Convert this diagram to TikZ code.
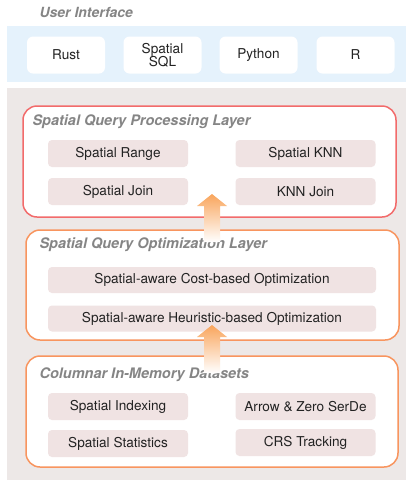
\documentclass[tikz,border=0pt]{standalone}
\usepackage{fontspec}
\setmainfont{TeX Gyre Heros}
\usetikzlibrary{positioning, calc}
\definecolor{uiblue}{HTML}{E5F2FC}
\definecolor{bggray}{HTML}{EDE8E7}
\definecolor{cellpink}{HTML}{F0E3E3}
\definecolor{procred}{HTML}{F26B6B}
\definecolor{optorange}{HTML}{F8955F}
\definecolor{titlegray}{HTML}{858585}
\definecolor{txtdark}{HTML}{222222}
\definecolor{arroworange}{HTML}{F9A55C}

\begin{document}
\begin{tikzpicture}[
    x=1pt, y=-1pt,
    every node/.style={text=txtdark, font=\fontsize{13.6}{15}\selectfont},
    uibox/.style={fill=white, rounded corners=6pt, minimum width=78pt,
      minimum height=37pt, align=center, inner sep=0pt},
    cell/.style={fill=cellpink, rounded corners=4pt, minimum width=140pt,
      minimum height=27pt, inner sep=0pt},
    widecell/.style={cell, minimum width=328pt, minimum height=26pt},
    layertitle/.style={anchor=west, text=titlegray,
      font=\fontsize{14.5}{16}\selectfont\bfseries\itshape},
    layerbox/.style={fill=white, rounded corners=14pt, line width=1.5pt},
  ]
  \useasboundingbox (0,0) rectangle (406,480);

  % ===== User interface =====
  \node[layertitle, font=\fontsize{14}{16}\selectfont\bfseries\itshape]
    (uititle) at (36,12) {User Interface};
  \fill[uiblue] (7,26) rectangle (406,82);
  \node[uibox] (rust) at (66,55) {Rust};
  \node[uibox] (sql) at (162.5,55) {Spatial\\[-2pt]SQL};
  \node[uibox] (python) at (258.5,55) {Python};
  \node[uibox] (rlang) at (355.5,55) {R};

  % ===== Engine background =====
  \fill[bggray] (7,88) rectangle (406,480);

  % ===== Query processing layer =====
  \draw[layerbox, draw=procred] (23,106) rectangle (396,217);
  \node[layertitle] (proctitle) at (29,122) {Spatial Query Processing Layer};
  \node[cell] (range) at (118,153.5) {Spatial Range};
  \node[cell] (knn) at (305.5,153.5) {Spatial KNN};
  \node[cell] (join) at (118,191.5) {Spatial Join};
  \node[cell] (knnjoin) at (305.5,191.5) {KNN Join};

  % ===== Query optimization layer =====
  \draw[layerbox, draw=optorange] (26,230) rectangle (399,340);
  \node[layertitle] (opttitle) at (36,245) {Spatial Query Optimization Layer};
  \node[widecell] (cost) at (212,280) {Spatial-aware Cost-based Optimization};
  \node[widecell] (heur) at (212,318.5) {Spatial-aware Heuristic-based Optimization};

  % ===== Columnar datasets =====
  \draw[layerbox, draw=optorange] (26,356) rectangle (398,467);
  \node[layertitle] (coltitle) at (36,375) {Columnar In-Memory Datasets};
  \node[cell] (index) at (118,406.5) {Spatial Indexing};
  \node[cell] (serde) at (305.5,406.5) {Arrow \& Zero SerDe};
  \node[cell] (stats) at (118,443.5) {Spatial Statistics};
  \node[cell] (crs) at (305.5,442.5) {CRS Tracking};

  % ===== Block arrows between layers =====
  \coordinate (tipa) at (212,194);
  \coordinate (tipb) at (212,325);
  \foreach \tip in {tipa, tipb} {
    \shade[top color=arroworange, bottom color=white]
      (\tip) -- ++(15,12) -- ++(-7,0) -- ++(0,36) -- ++(-16,0)
      -- ++(0,-36) -- ++(-7,0) -- cycle;
  }

\end{tikzpicture}
\end{document}
